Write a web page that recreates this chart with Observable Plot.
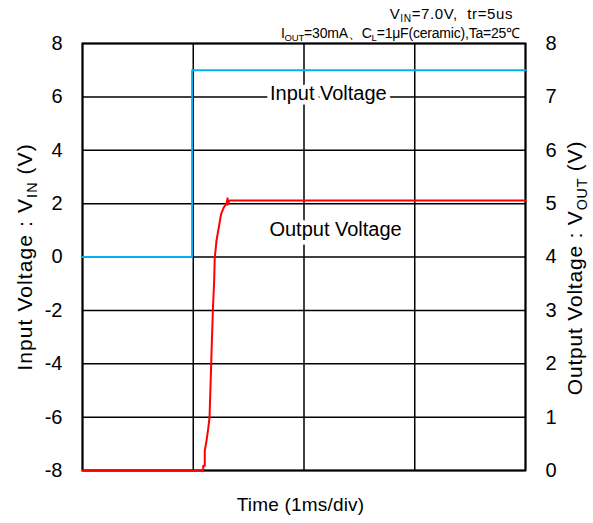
<!DOCTYPE html>
<html><head><meta charset="utf-8">
<script src="https://cdn.jsdelivr.net/npm/d3@7"></script>
<script src="https://cdn.jsdelivr.net/npm/@observablehq/plot@0.6"></script>
<style>
body{margin:0;background:#fff}
svg{font-family:"Liberation Sans",Arial,sans-serif}
</style>
</head><body><div id="chart"></div>
<script>
// Input voltage (V) vs time (ms)
const inTime = [0, 0.99, 0.99, 4];
const inVolt = [0, 0, 7, 7];
// Output voltage (V) vs time (ms)
const outTime = [0, 1.09, 1.09, 1.104, 1.104, 1.12, 1.133, 1.147, 1.162, 1.177, 1.189, 1.194, 1.201, 1.21, 1.237, 1.252, 1.276, 1.3, 1.31, 1.31, 1.327, 4];
const outVolt = [0, 0, 0.09, 0.09, 0.37, 0.56, 0.75, 0.99, 2.0, 3.0, 3.56, 3.99, 4.12, 4.31, 4.63, 4.81, 4.93, 5.0, 5.1, 4.98, 5.06, 5.06];
const leftTicks = [-8, -6, -4, -2, 0, 2, 4, 6, 8];
const rightTickLabels = ["0", "1", "2", "3", "4", "5", "6", "7", "8"];
const timeTicks = [0, 1, 2, 3, 4];
const seriesLabels = ["Input Voltage", "Output Voltage"];

const inData = inTime.map((t, i) => ({t, v: inVolt[i]}));
const outData = outTime.map((t, i) => ({t, v: outVolt[i] * 2 - 8}));

const W = 593, H = 523;
const chart = Plot.plot({
  width: W, height: H,
  marginLeft: 82, marginRight: 68, marginTop: 43, marginBottom: 53,
  x: {domain: [0, 4], axis: null},
  y: {domain: [-8, 8]},
  style: {fontFamily: '"Liberation Sans", Arial, sans-serif', color: "black"},
  marks: [
    Plot.gridX(timeTicks, {stroke: "black", strokeOpacity: 1, strokeWidth: 1.5}),
    Plot.gridY(leftTicks, {stroke: "black", strokeOpacity: 1, strokeWidth: 1.5}),
    Plot.frame({stroke: "black", strokeWidth: 2}),
    Plot.axisY({ticks: leftTicks, tickSize: 0, tickPadding: 20, label: null, fontSize: 20, tickFormat: d => String(d)}),
    Plot.axisY({anchor: "right", ticks: leftTicks, tickSize: 0, tickPadding: 20, label: null, fontSize: 20,
      tickFormat: d => rightTickLabels[leftTicks.indexOf(d)]}),
    Plot.text([{t: 2.22, v: 6.13, s: seriesLabels[0]}], {x: "t", y: "v", text: "s", fontSize: 20, fill: "black", stroke: "white", strokeWidth: 9}),
    Plot.text([{t: 2.285, v: 1.03, s: seriesLabels[1]}], {x: "t", y: "v", text: "s", fontSize: 20, fill: "black", stroke: "white", strokeWidth: 9}),
    Plot.line(inData, {x: "t", y: "v", stroke: "#00b0f0", strokeWidth: 2}),
    Plot.line(outData, {x: "t", y: "v", stroke: "#ff0000", strokeWidth: 2})
  ]
});
document.getElementById("chart").appendChild(chart);

const svg = d3.select(chart);
function addText(x, y, parts, opts) {
  const t = svg.append("text")
    .attr("transform", `translate(${x},${y})` + (opts.rotate ? ` rotate(${opts.rotate})` : ""))
    .attr("text-anchor", opts.anchor || "middle")
    .attr("font-size", opts.size)
    .attr("fill", "black")
    .attr("font-family", '"Liberation Sans", Arial, sans-serif');
  if (opts.ls) t.attr("letter-spacing", opts.ls);
  let shifted = 0;
  parts.forEach(p => {
    const sp = t.append("tspan").text(p.s);
    if (p.sub) {
      sp.attr("font-size", opts.size * 0.68).attr("dy", opts.size * 0.22);
      shifted = opts.size * 0.22;
    } else if (shifted) {
      sp.attr("dy", -shifted);
      shifted = 0;
    }
  });
  return t;
}
addText(513, 19, [{s: "V"}, {s: "IN", sub: true}, {s: "=7.0V,  tr=5us"}], {size: 15, anchor: "end", ls: 0.6});
addText(520, 38, [{s: "I"}, {s: "OUT", sub: true}, {s: "=30mA、C"}, {s: "L", sub: true}, {s: "=1μF(ceramic),Ta=25℃"}], {size: 14, anchor: "end", ls: -0.2});
addText(300.5, 511, [{s: "Time (1ms/div)"}], {size: 19, ls: 0.2});
addText(32, 257, [{s: "Input Voltage : V"}, {s: "IN", sub: true}, {s: " (V)"}], {size: 21, rotate: -90, ls: 1.1});
addText(582, 268, [{s: "Output Voltage : V"}, {s: "OUT", sub: true}, {s: " (V)"}], {size: 21, rotate: -90, ls: 0.8});
</script>
</body></html>
